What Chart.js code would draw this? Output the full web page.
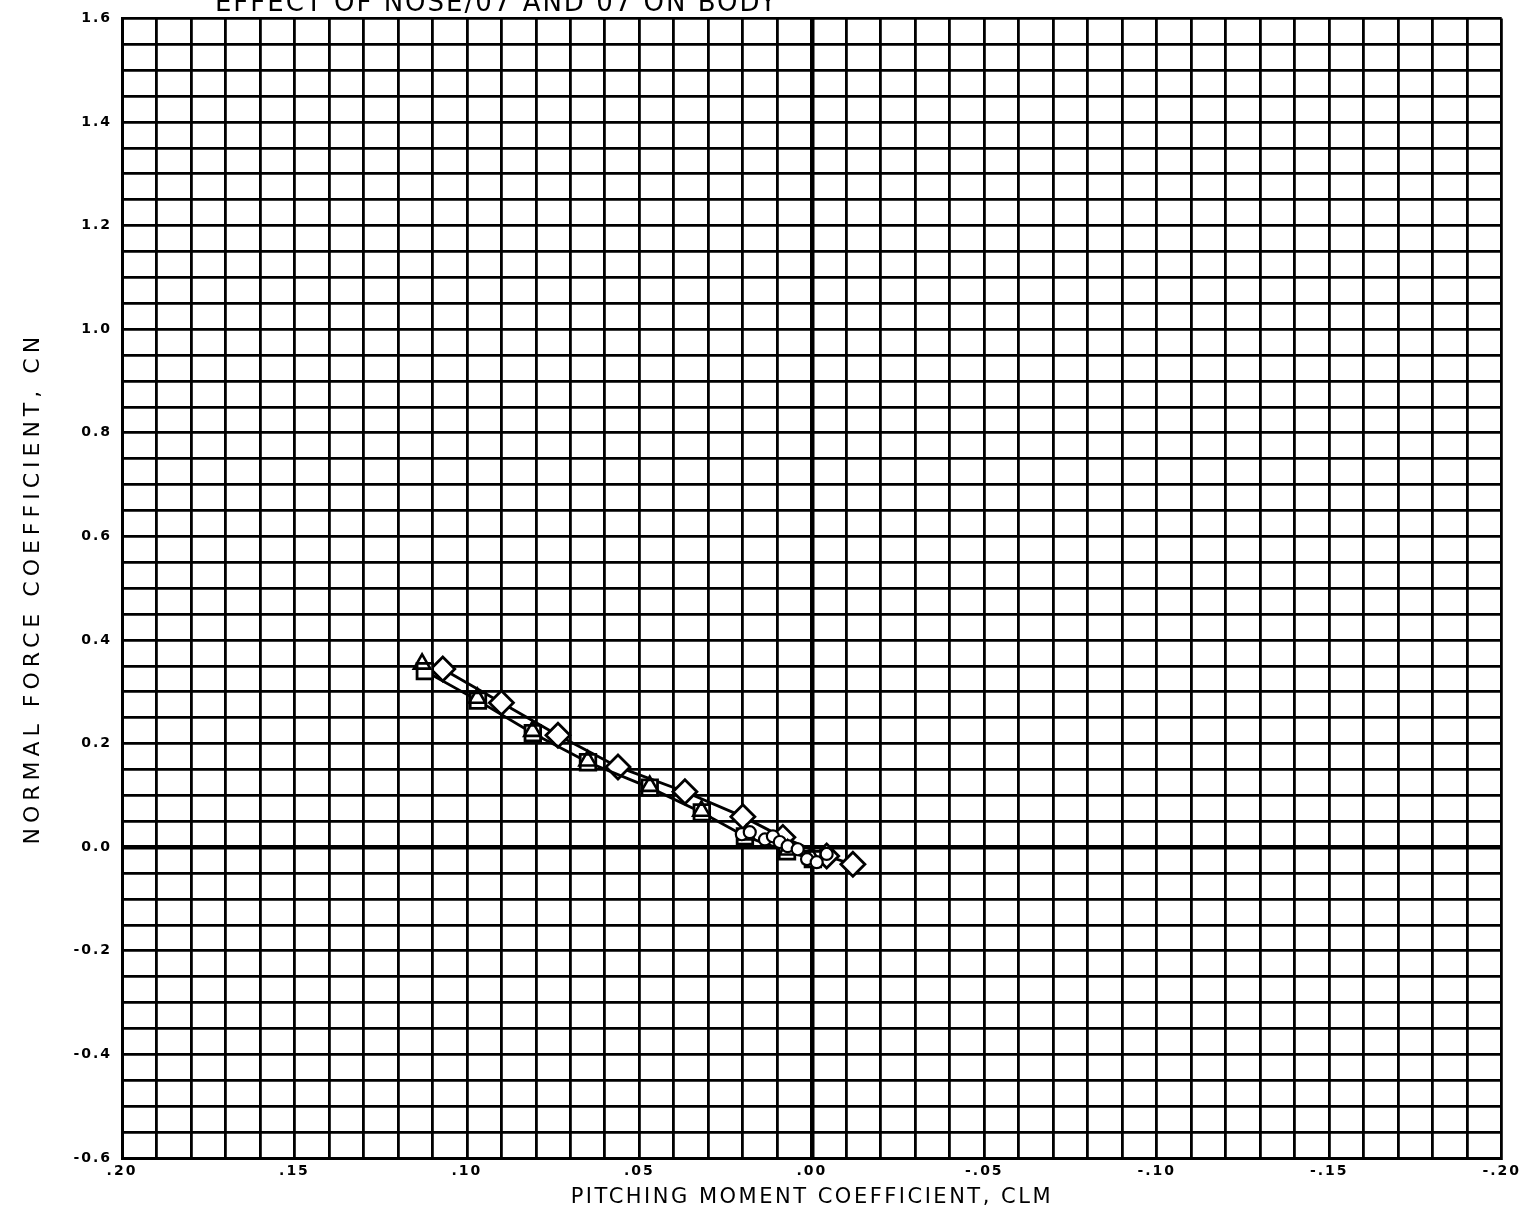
<!DOCTYPE html>
<html>
<head>
<meta charset="utf-8">
<script src="https://cdn.jsdelivr.net/npm/chart.js@4/dist/chart.umd.min.js"></script>
<style>
  html, body { margin: 0; padding: 0; background: #ffffff; }
  #wrap { width: 1522px; height: 1228px; position: relative; overflow: hidden; }
  canvas { display: block; }
</style>
</head>
<body>
<div id="wrap"><canvas id="c" width="1522" height="1228"></canvas></div>
<script>
// ---- data ----
const titleText = "EFFECT OF NOSE/07 AND 07 ON BODY";
const xAxisTitle = "PITCHING MOMENT COEFFICIENT, CLM";
const yAxisTitle = "NORMAL FORCE COEFFICIENT, CN";

const xMin = -0.20, xMax = 0.20, xGridStep = 0.01, xLabelStep = 0.05;
const yMin = -0.6, yMax = 1.6, yGridStep = 0.05, yLabelStep = 0.2;

// upper run (diamonds)
const diamondCLM = [0.107, 0.090, 0.0736, 0.0562, 0.0368, 0.0200, 0.0084, -0.0043, -0.0119];
const diamondCN  = [0.344, 0.279, 0.216, 0.155, 0.107, 0.059, 0.019, -0.017, -0.033];

// lower run (squares)
const squareCLM = [0.1122, 0.0968, 0.0809, 0.0649, 0.0470, 0.0319, 0.0194, 0.0072, -0.0003];
const squareCN  = [0.340, 0.283, 0.220, 0.164, 0.115, 0.067, 0.021, -0.008, -0.023];

// triangles (overlapping the squares)
const triangleCLM = [0.1130, 0.0970, 0.0810, 0.0650, 0.0470, 0.0320, 0.0190, 0.0070, 0.0000];
const triangleCN  = [0.354, 0.288, 0.224, 0.167, 0.118, 0.070, 0.024, -0.005, -0.021];

// small symbols clustered near the origin
const clusterCLM = [0.0203, 0.0180, 0.0136, 0.0113, 0.0093, 0.0070, 0.0041, 0.0014, -0.0014, -0.0043];
const clusterCN  = [0.025, 0.029, 0.015, 0.021, 0.010, 0.002, -0.004, -0.023, -0.029, -0.013];

const toPts = (xs, ys) => xs.map((x, i) => ({ x: x, y: ys[i] }));

const isMultiple = (v, step) => Math.abs(v / step - Math.round(v / step)) < 1e-6;
const isZero = v => Math.abs(v) < 1e-9;

function fmtX(v) {
  if (!isMultiple(v, xLabelStep)) return '';
  const s = Math.abs(v).toFixed(2).replace(/^0/, '');
  return (v < -1e-9 ? '-' : '') + s;
}
function fmtY(v) {
  if (!isMultiple(v, yLabelStep)) return '';
  if (isZero(v)) return '0.0';
  return v.toFixed(1);
}

const tickFont = { family: "'DejaVu Sans', sans-serif", size: 14, weight: 'bold' };
const xTitleFont = { family: "'DejaVu Sans', sans-serif", size: 21, weight: 'normal' };
const yTitleFont = { family: "'DejaVu Sans', sans-serif", size: 22, weight: 'normal' };

// spacing patch so the plotter-style labels come out wide
const spacingPlugin = {
  id: 'spacing',
  beforeDraw(chart) {
    Object.values(chart.scales).forEach(s => {
      if (s._patched) return;
      s._patched = true;
      const dl = s.drawLabels;
      s.drawLabels = function (area) {
        const ctx = this.ctx; ctx.save(); ctx.letterSpacing = '2px';
        dl.call(this, area); ctx.restore();
      };
      const dt = s.drawTitle;
      s.drawTitle = function (area) {
        const ctx = this.ctx; ctx.save();
        ctx.letterSpacing = this.axis === 'y' ? '5px' : '2.5px';
        dt.call(this, area); ctx.restore();
      };
    });
  }
};

const topTitlePlugin = {
  id: 'topTitle',
  afterDraw(chart) {
    const ctx = chart.ctx;
    ctx.save();
    ctx.fillStyle = '#000';
    ctx.font = "26px 'DejaVu Sans', sans-serif";
    ctx.letterSpacing = '2px';
    ctx.textBaseline = 'alphabetic';
    ctx.textAlign = 'right';
    ctx.fillText(titleText, 778, 11);
    ctx.restore();
  }
};

const gridWidth = ctx => isZero(ctx.tick.value) ? 4.5 : 2.8;

new Chart(document.getElementById('c'), {
  type: 'scatter',
  data: {
    datasets: [
      {
        label: 'cluster',
        data: toPts(clusterCLM, clusterCN),
        pointStyle: 'circle', pointRadius: 6, borderColor: '#000', backgroundColor: '#fff',
        borderWidth: 2.2, showLine: false
      },
      {
        label: 'triangles',
        data: toPts(triangleCLM, triangleCN),
        pointStyle: 'triangle', pointRadius: 9.5, borderColor: '#000', backgroundColor: 'rgba(255,255,255,0)',
        borderWidth: 2.6, showLine: false
      },
      {
        label: 'squares',
        data: toPts(squareCLM, squareCN),
        pointStyle: 'rect', pointRadius: 11, borderColor: '#000', backgroundColor: '#fff',
        borderWidth: 2.8, showLine: true, tension: 0
      },
      {
        label: 'diamonds',
        data: toPts(diamondCLM, diamondCN),
        pointStyle: 'rectRot', pointRadius: 12, borderColor: '#000', backgroundColor: '#fff',
        borderWidth: 2.8, showLine: true, tension: 0
      }
    ]
  },
  options: {
    responsive: false,
    animation: false,
    devicePixelRatio: 1,
    layout: { padding: { left: 0, top: 8, right: 20, bottom: 0 } },
    plugins: { legend: { display: false }, tooltip: { enabled: false }, title: { display: false } },
    elements: { line: { borderColor: '#000', borderWidth: 3.5 } },
    scales: {
      x: {
        type: 'linear', reverse: true, min: xMin, max: xMax,
        afterFit: s => { s.height = 70; },
        grid: { color: '#000', lineWidth: gridWidth, drawTicks: false },
        border: { display: true, color: '#000', width: 3 },
        ticks: { stepSize: xGridStep, autoSkip: false, maxRotation: 0, padding: 5,
                 color: '#000', font: tickFont, callback: v => fmtX(v) },
        title: { display: true, text: xAxisTitle, color: '#000', font: xTitleFont,
                 padding: { top: 0, bottom: 18 } }
      },
      y: {
        type: 'linear', min: yMin, max: yMax,
        afterFit: s => { s.width = 122; },
        grid: { color: '#000', lineWidth: gridWidth, drawTicks: false },
        border: { display: true, color: '#000', width: 3 },
        ticks: { stepSize: yGridStep, autoSkip: false, padding: 10,
                 color: '#000', font: tickFont, callback: v => fmtY(v) },
        title: { display: true, text: yAxisTitle, color: '#000', font: yTitleFont,
                 padding: { top: 20, bottom: 0 } }
      }
    }
  },
  plugins: [spacingPlugin, topTitlePlugin]
});
</script>
</body>
</html>
